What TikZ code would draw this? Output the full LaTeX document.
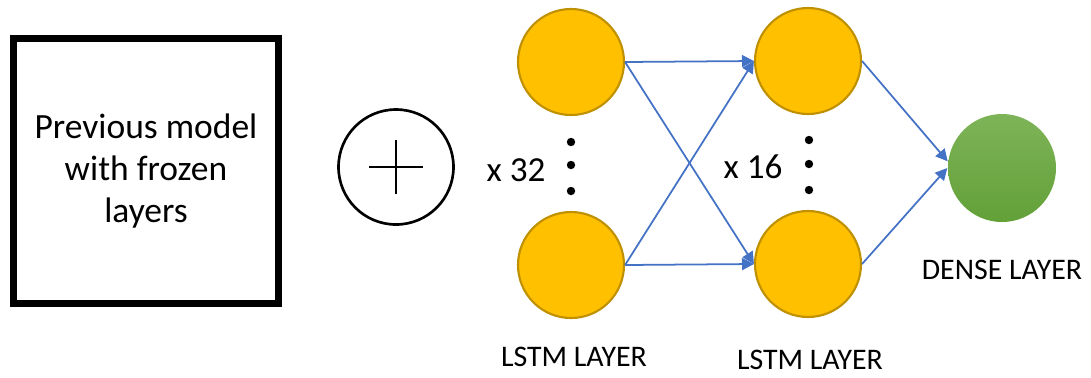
\documentclass[tikz,border=0pt]{standalone}
\usepackage{fontspec}
\setmainfont{Carlito}
\usetikzlibrary{arrows.meta}

\definecolor{lstmfill}{HTML}{FFC000}
\definecolor{lstmline}{HTML}{BF9000}
\definecolor{edgeblue}{HTML}{4472C4}
\definecolor{densetop}{RGB}{126,180,88}
\definecolor{densebot}{RGB}{98,160,56}

\begin{document}
\begin{tikzpicture}[
    unit/.style={circle, minimum size=1.06cm, inner sep=0pt, fill=lstmfill, draw=lstmline, line width=0.6pt},
    link/.style={edgeblue, line width=0.5pt, -{Triangle[length=3.4pt, width=3.4pt]}},
    lbl/.style={font=\fontsize{8.5}{10}\selectfont}
  ]
  \useasboundingbox (0,0) rectangle (10.91,3.77);
  % frozen part of the network
  \node[draw, line width=2pt, minimum width=2.65cm, minimum height=2.65cm, align=center,
        font=\fontsize{10.1}{12}\selectfont] (prev) at (1.46,2.06) {Previous model\\with frozen\\layers};
  \node[draw, circle, line width=0.75pt, minimum size=1.15cm, inner sep=0pt] (add) at (3.96,2.10) {};
  \draw[line width=0.75pt] ([xshift=-0.27cm]add.center) -- ([xshift=0.27cm]add.center);
  \draw[line width=0.75pt] ([yshift=-0.27cm]add.center) -- ([yshift=0.27cm]add.center);

  % two lstm layers and the dense output
  \node[unit] (a1) at (5.71,3.15) {};
  \node[unit] (a2) at (5.71,1.12) {};
  \node[unit] (b1) at (8.08,3.16) {};
  \node[unit] (b2) at (8.08,1.13) {};
  \node[circle, minimum size=1.08cm, inner sep=0pt, top color=densetop, bottom color=densebot] (d) at (10.02,2.09) {};

  \foreach \y in {2.35,2.12,1.86} \fill (5.71,\y) circle (0.042);
  \foreach \y in {2.37,2.13,1.87} \fill (8.09,\y) circle (0.042);
  \node[font=\fontsize{10}{12}\selectfont] (n32) at (5.16,2.07) {x 32};
  \node[font=\fontsize{10}{12}\selectfont] (n16) at (7.53,2.10) {x 16};

  \draw[link] (a1.east) -- (b1.west);
  \draw[link] (a1.east) -- (b2.west);
  \draw[link] (a2.east) -- (b1.west);
  \draw[link] (a2.east) -- (b2.west);
  \draw[link] (b1.east) -- (d.173);
  \draw[link] (b2.east) -- (d.west);

  \node[lbl] (l1) at (5.74,0.20) {LSTM LAYER};
  \node[lbl] (l2) at (8.10,0.17) {LSTM LAYER};
  \node[lbl] (l3) at (10.02,1.07) {DENSE LAYER};
\end{tikzpicture}
\end{document}
